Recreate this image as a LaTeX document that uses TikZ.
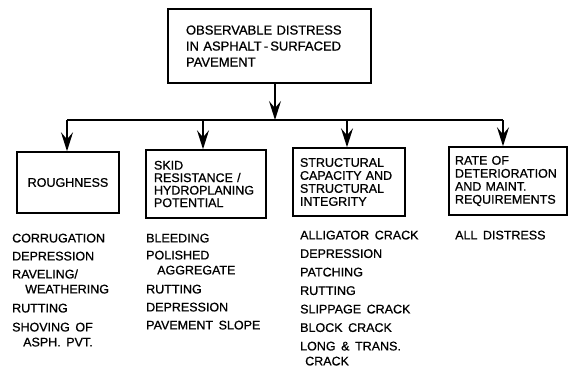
\documentclass[tikz,border=0pt]{standalone}
\usepackage{fontspec}
\setmainfont{Liberation Sans}[WordSpace=1.6,FakeBold=0.8]
\usetikzlibrary{arrows.meta}
\begin{document}
\begin{tikzpicture}[x=1pt,y=-1pt,
  font=\fontsize{12.5}{15}\selectfont,
  box/.style={draw, line width=1.5pt, inner sep=0pt, align=left},
  conn/.style={line width=1.5pt},
  arr/.style={conn, -{Stealth[length=19pt,width=12pt,inset=7pt]}},
  list/.style={anchor=north west, inner sep=0pt, align=left}]
\useasboundingbox (0,0) rectangle (570,371);
% boxes
\node[box, minimum width=203pt, minimum height=74pt, text width=167pt,
  font=\fontsize{13}{16}\selectfont] (top) at (269.5,46)
  {OBSERVABLE DISTRESS\\IN ASPHALT\,-\,SURFACED\\PAVEMENT};
\node[box, minimum width=102pt, minimum height=61pt] (rough) at (68,182.5) {ROUGHNESS};
\node[box, minimum width=120pt, minimum height=68pt, text width=104pt,
  font=\fontsize{12.5}{12.5}\selectfont] (skid) at (206,184)
  {SKID\\RESISTANCE /\\HYDROPLANING\\POTENTIAL};
\node[box, minimum width=112pt, minimum height=68pt, text width=98pt,
  font=\fontsize{12.5}{13}\selectfont] (struct) at (349,182)
  {STRUCTURAL\\CAPACITY AND\\STRUCTURAL\\INTEGRITY};
\node[box, minimum width=118pt, minimum height=68pt, text width=106pt,
  font=\fontsize{12.5}{13}\selectfont] (rate) at (508,181)
  {RATE OF\\DETERIORATION\\AND MAINT.\\REQUIREMENTS};
% connectors
\coordinate (b0) at (275,120);
\coordinate (b1) at (67,120);
\coordinate (b2) at (203,120);
\coordinate (b3) at (347,120);
\coordinate (b4) at (503,120);
\draw[conn] (b1) -- (b4);
\draw[arr] (top.south -| b0) -- (b0);
\draw[arr] (b1) -- (b1 |- rough.north);
\draw[arr] (b2) -- (b2 |- skid.north);
\draw[arr] (b3) -- (b3 |- struct.north);
\draw[arr] (b4) -- (b4 |- rate.north);
% lists
\node[list] (l1) at (12,233.5)
  {CORRUGATION\\[3pt]DEPRESSION\\[3pt]RAVELING/\\\hspace*{13pt}WEATHERING\\[4pt]RUTTING\\[4pt]SHOVING OF\\\hspace*{11pt}ASPH. PVT.};
\node[list] (l2) at (146,233.5)
  {BLEEDING\\[2pt]POLISHED\\\hspace*{11pt}AGGREGATE\\[4pt]RUTTING\\[3pt]DEPRESSION\\[3pt]PAVEMENT SLOPE};
\node[list] (l3) at (300,230.5)
  {ALLIGATOR CRACK\\[3.5pt]DEPRESSION\\[3.5pt]PATCHING\\[3.5pt]RUTTING\\[3.5pt]SLIPPAGE CRACK\\[3.5pt]BLOCK CRACK\\[3.5pt]LONG \& TRANS.\\\hspace*{5pt}CRACK};
\node[list] (l4) at (455,230.5) {ALL DISTRESS};
\end{tikzpicture}
\end{document}
